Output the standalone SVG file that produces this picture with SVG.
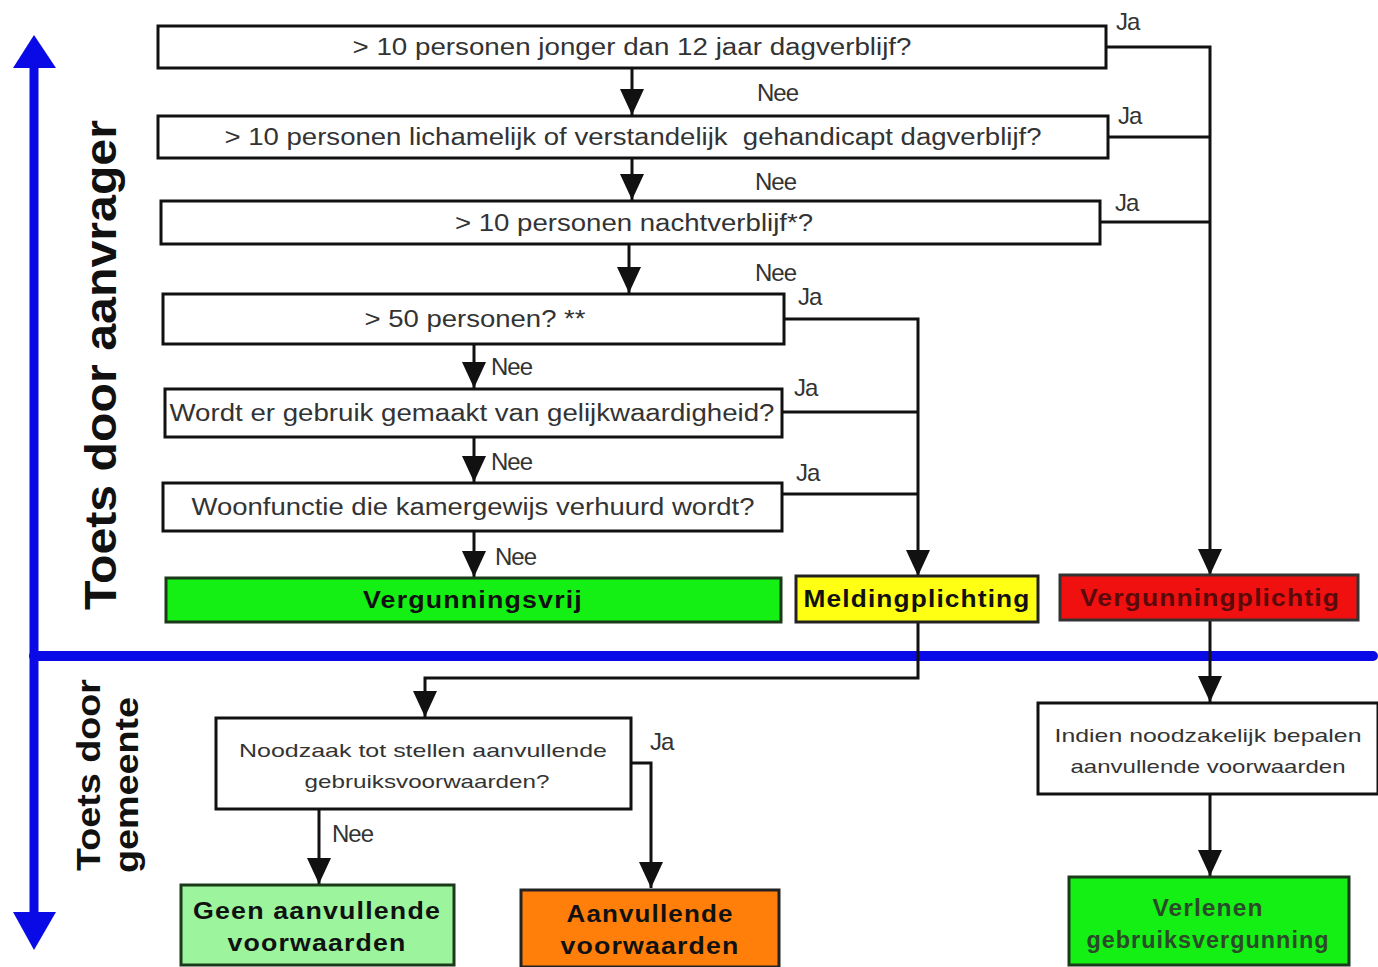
<svg xmlns="http://www.w3.org/2000/svg" width="1378" height="967" viewBox="0 0 1378 967">
<style>
.box{fill:#fff;stroke:#111;stroke-width:3}
.t{font-family:"Liberation Sans",Arial,sans-serif;font-size:23px;fill:#333;text-anchor:middle}
.s{font-family:"Liberation Sans",Arial,sans-serif;font-size:19px;fill:#333;text-anchor:middle}
.lbl{font-family:"Liberation Sans",Arial,sans-serif;font-size:24px;fill:#333;letter-spacing:-1px}
.b{font-family:"Liberation Sans",Arial,sans-serif;font-size:23px;font-weight:bold;fill:#111;text-anchor:middle;letter-spacing:1px}
.c{fill:none;stroke:#111;stroke-width:3}
.side{font-family:"Liberation Sans",Arial,sans-serif;font-weight:bold;fill:#111;text-anchor:middle}
</style>
<defs>
<marker id="ahd" markerUnits="userSpaceOnUse" markerWidth="26" markerHeight="24" refX="26" refY="12" orient="auto" viewBox="0 0 26 24">
<path d="M0,0 L26,12 L0,24 Z" fill="#111"/>
</marker>
</defs>
<rect width="1378" height="967" fill="#fff"/>

<g id="axes">
<line x1="34" y1="60" x2="34" y2="920" stroke="#0a0ae6" stroke-width="9"/>
<polygon points="34,35 13,68 56,68" fill="#0a0ae6"/>
<polygon points="34,950 13,912 56,912" fill="#0a0ae6"/>
<line x1="34" y1="656" x2="1373" y2="656" stroke="#0a0ae6" stroke-width="10" stroke-linecap="round"/>
</g>

<g id="side-labels">
<text class="side" font-size="44" transform="translate(116,365) rotate(-90)" textLength="490" lengthAdjust="spacingAndGlyphs">Toets door aanvrager</text>
<text class="side" font-size="33" transform="translate(100,775) rotate(-90)" textLength="192" lengthAdjust="spacingAndGlyphs">Toets door</text>
<text class="side" font-size="33" transform="translate(138,785) rotate(-90)" textLength="176" lengthAdjust="spacingAndGlyphs">gemeente</text>
</g>

<g id="connectors">
<polyline class="c" points="1106,47 1210,47 1210,575" marker-end="url(#ahd)"/>
<line class="c" x1="1108" y1="137" x2="1210" y2="137"/>
<line class="c" x1="1100" y1="222" x2="1210" y2="222"/>
<line class="c" x1="632" y1="68" x2="632" y2="115" marker-end="url(#ahd)"/>
<line class="c" x1="632" y1="158" x2="632" y2="200" marker-end="url(#ahd)"/>
<line class="c" x1="629" y1="244" x2="629" y2="293" marker-end="url(#ahd)"/>
<polyline class="c" points="784,319 918,319 918,576" marker-end="url(#ahd)"/>
<line class="c" x1="782" y1="412" x2="918" y2="412"/>
<line class="c" x1="782" y1="494" x2="918" y2="494"/>
<line class="c" x1="474" y1="344" x2="474" y2="388" marker-end="url(#ahd)"/>
<line class="c" x1="474" y1="437" x2="474" y2="482" marker-end="url(#ahd)"/>
<line class="c" x1="474" y1="531" x2="474" y2="577" marker-end="url(#ahd)"/>
<polyline class="c" points="918,622 918,678 425,678 425,717" marker-end="url(#ahd)"/>
<polyline class="c" points="631,763 651,763 651,888" marker-end="url(#ahd)"/>
<line class="c" x1="319" y1="809" x2="319" y2="884" marker-end="url(#ahd)"/>
<line class="c" x1="1210" y1="620" x2="1210" y2="702" marker-end="url(#ahd)"/>
<line class="c" x1="1210" y1="794" x2="1210" y2="876" marker-end="url(#ahd)"/>
<text class="lbl" x="1116" y="30">Ja</text>
<text class="lbl" x="1118" y="124">Ja</text>
<text class="lbl" x="1115" y="211">Ja</text>
<text class="lbl" x="757" y="101">Nee</text>
<text class="lbl" x="755" y="190">Nee</text>
<text class="lbl" x="755" y="281">Nee</text>
<text class="lbl" x="798" y="305">Ja</text>
<text class="lbl" x="794" y="396">Ja</text>
<text class="lbl" x="796" y="481">Ja</text>
<text class="lbl" x="491" y="375">Nee</text>
<text class="lbl" x="491" y="470">Nee</text>
<text class="lbl" x="495" y="565">Nee</text>
<text class="lbl" x="650" y="750">Ja</text>
<text class="lbl" x="332" y="842">Nee</text>
</g>

<g id="q1"><rect class="box" x="158" y="26" width="948" height="42"/><text class="t" x="632" y="55" textLength="559" lengthAdjust="spacingAndGlyphs">&gt; 10 personen jonger dan 12 jaar dagverblijf?</text></g>
<g id="q2"><rect class="box" x="158" y="116" width="950" height="42"/><text class="t" x="633" y="145" textLength="817" lengthAdjust="spacingAndGlyphs" xml:space="preserve">&gt; 10 personen lichamelijk of verstandelijk  gehandicapt dagverblijf?</text></g>
<g id="q3"><rect class="box" x="161" y="201" width="939" height="43"/><text class="t" x="634" y="231" textLength="358" lengthAdjust="spacingAndGlyphs">&gt; 10 personen nachtverblijf*?</text></g>
<g id="q4"><rect class="box" x="163" y="294" width="621" height="50"/><text class="t" x="475" y="327" textLength="221" lengthAdjust="spacingAndGlyphs">&gt; 50 personen? **</text></g>
<g id="q5"><rect class="box" x="165" y="389" width="617" height="48"/><text class="t" x="472" y="421" textLength="605" lengthAdjust="spacingAndGlyphs">Wordt er gebruik gemaakt van gelijkwaardigheid?</text></g>
<g id="q6"><rect class="box" x="163" y="483" width="619" height="48"/><text class="t" x="473" y="515" textLength="563" lengthAdjust="spacingAndGlyphs">Woonfunctie die kamergewijs verhuurd wordt?</text></g>

<g id="vergunningsvrij"><rect x="166" y="578" width="615" height="44" fill="#14f014" stroke="#1a3a1a" stroke-width="3"/><text class="b" x="473" y="608" textLength="220" lengthAdjust="spacingAndGlyphs">Vergunningsvrij</text></g>
<g id="meldingplichting"><rect x="796" y="576" width="242" height="46" fill="#ffff14" stroke="#222" stroke-width="3"/><text class="b" x="917" y="607" textLength="227" lengthAdjust="spacingAndGlyphs">Meldingplichting</text></g>
<g id="vergunningplichtig"><rect x="1060" y="575" width="298" height="45" fill="#f01010" stroke="#333" stroke-width="3"/><text class="b" x="1210" y="606" textLength="260" lengthAdjust="spacingAndGlyphs" style="fill:#5a0a0a">Vergunningplichtig</text></g>

<g id="noodzaak"><rect class="box" x="216" y="718" width="415" height="91"/><text class="s" x="423" y="757" textLength="368" lengthAdjust="spacingAndGlyphs">Noodzaak tot stellen aanvullende</text><text class="s" x="427" y="788" textLength="245" lengthAdjust="spacingAndGlyphs">gebruiksvoorwaarden?</text></g>
<g id="geen"><rect x="181" y="885" width="273" height="80" fill="#9cf59c" stroke="#1a3a1a" stroke-width="3"/><text class="b" x="317" y="919" textLength="248" lengthAdjust="spacingAndGlyphs">Geen aanvullende</text><text class="b" x="317" y="951" textLength="179" lengthAdjust="spacingAndGlyphs">voorwaarden</text></g>
<g id="aanvullende"><rect x="521" y="890" width="258" height="77" fill="#ff7f0a" stroke="#222" stroke-width="3"/><text class="b" x="650" y="922" textLength="167" lengthAdjust="spacingAndGlyphs">Aanvullende</text><text class="b" x="650" y="954" textLength="179" lengthAdjust="spacingAndGlyphs">voorwaarden</text></g>
<g id="indien"><rect class="box" x="1038" y="703" width="340" height="91"/><text class="s" x="1208" y="742" textLength="307" lengthAdjust="spacingAndGlyphs">Indien noodzakelijk bepalen</text><text class="s" x="1208" y="773" textLength="275" lengthAdjust="spacingAndGlyphs">aanvullende voorwaarden</text></g>
<g id="verlenen"><rect x="1069" y="877" width="280" height="88" fill="#14f014" stroke="#1a3a1a" stroke-width="3"/><text class="b" x="1208" y="916" textLength="111" lengthAdjust="spacingAndGlyphs" style="fill:#2a4a2a">Verlenen</text><text class="b" x="1208" y="948" textLength="243" lengthAdjust="spacingAndGlyphs" style="fill:#2a4a2a">gebruiksvergunning</text></g>
</svg>
